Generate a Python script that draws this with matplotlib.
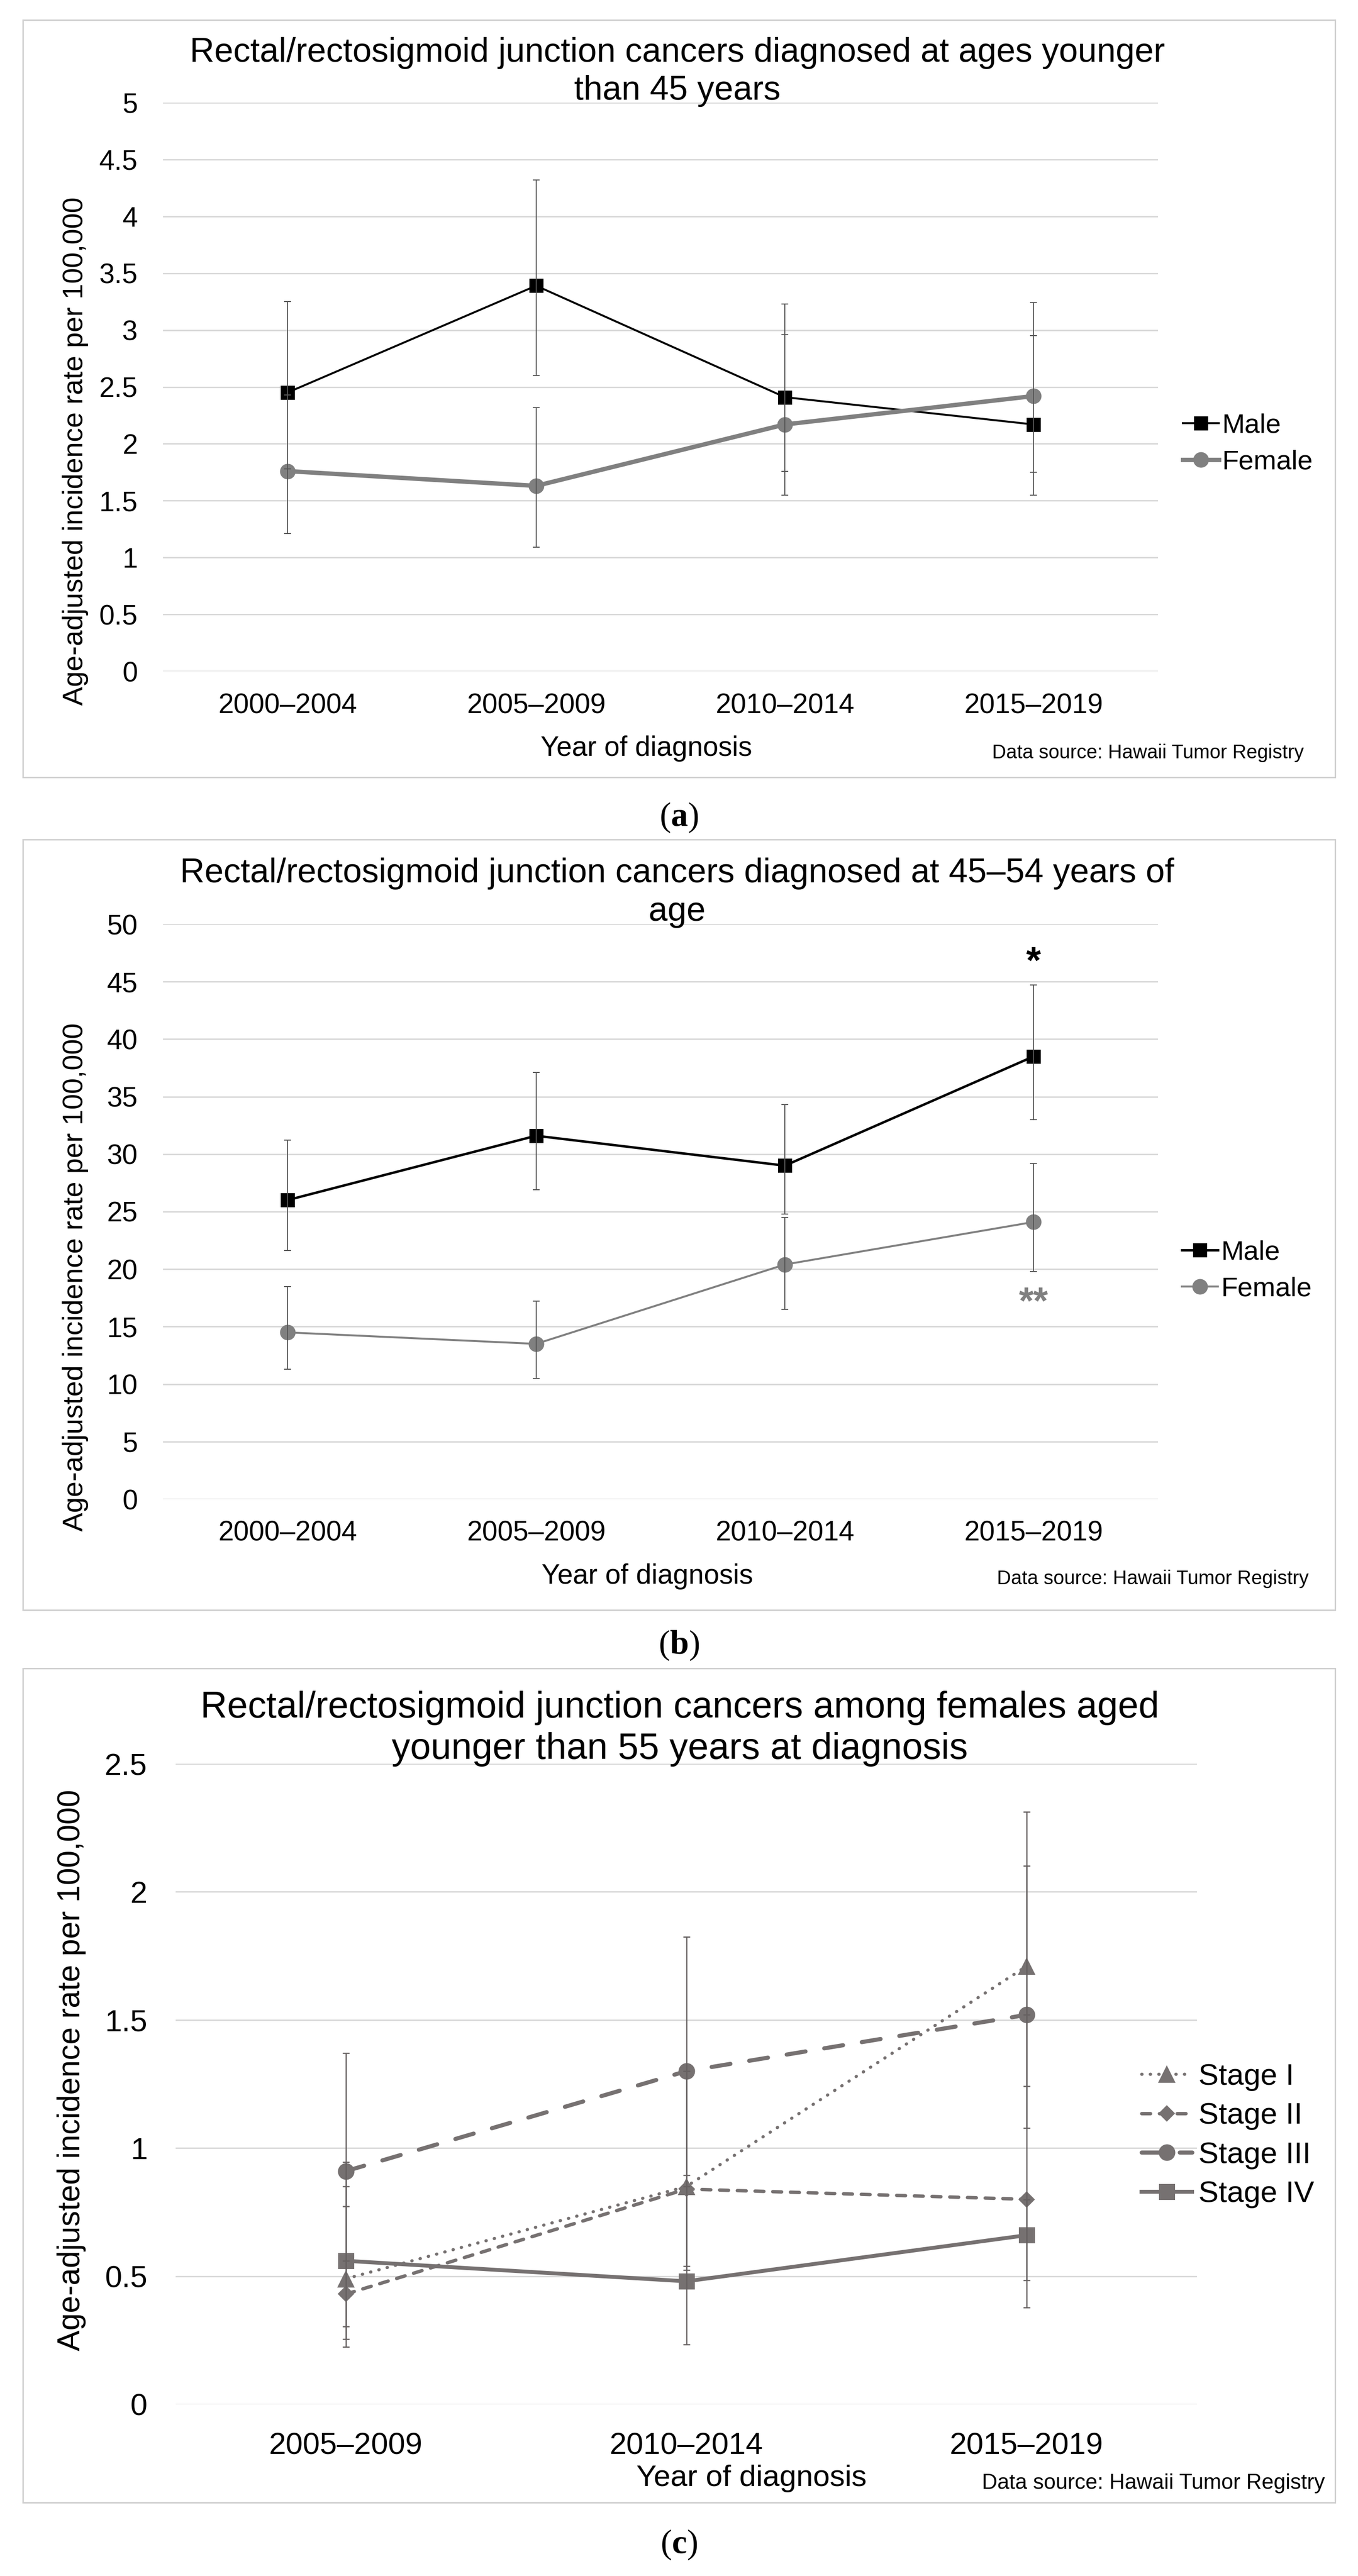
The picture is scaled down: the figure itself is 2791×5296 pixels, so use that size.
import numpy as np
import matplotlib.pyplot as plt
from matplotlib.patches import Rectangle
from matplotlib.ticker import FuncFormatter

plt.rcParams['font.family'] = ['Liberation Sans', 'DejaVu Sans']
plt.rcParams['mathtext.fontset'] = 'custom'
plt.rcParams['mathtext.rm'] = 'Liberation Serif'
plt.rcParams['mathtext.bf'] = 'Liberation Serif:bold'

# ---- data ----
periods4 = ['2000–2004', '2005–2009', '2010–2014', '2015–2019']
periods3 = ['2005–2009', '2010–2014', '2015–2019']

# (a) younger than 45
a_male = [2.45, 3.39, 2.41, 2.17]
a_male_lo = [1.78, 2.60, 1.76, 1.55]
a_male_hi = [3.25, 4.32, 3.23, 2.95]
a_female = [1.76, 1.63, 2.17, 2.42]
a_female_lo = [1.21, 1.09, 1.55, 1.75]
a_female_hi = [2.43, 2.32, 2.96, 3.24]

# (b) 45-54
b_male = [26.0, 31.6, 29.0, 38.5]
b_male_lo = [21.6, 26.9, 24.8, 33.0]
b_male_hi = [31.2, 37.1, 34.3, 44.7]
b_female = [14.5, 13.5, 20.4, 24.1]
b_female_lo = [11.3, 10.5, 16.5, 19.8]
b_female_hi = [18.5, 17.2, 24.5, 29.2]

# (c) females younger than 55, by stage
stages = ['Stage I', 'Stage II', 'Stage III', 'Stage IV']
stage_vals = [[0.49, 0.85, 1.71],
              [0.43, 0.84, 0.80],
              [0.91, 1.30, 1.52],
              [0.56, 0.48, 0.66]]
stage_lo = [[0.255, 0.540, 1.078],
            [0.224, 0.523, 0.485],
            [0.56, 0.895, 1.242],
            [0.303, 0.233, 0.378]]
stage_hi = [[0.945, 1.30, 2.313],
            [0.851, 1.30, 1.52],
            [1.371, 1.825, 2.102],
            [0.772, 0.85, 0.80]]

W, H = 2791, 5296
DPI = 72
fig = plt.figure(figsize=(W / DPI, H / DPI), dpi=DPI)

GRID = '#d9d9d9'
ERR = '#555555'
GREY = '#808080'
STAGE = '#767171'


def add_ax(left, top, right, bottom):
    return fig.add_axes([left / W, 1 - bottom / H, (right - left) / W, (bottom - top) / H])


def style_ax(ax, cats, ymax, ystep, fs, xpad, ypad):
    ax.set_xlim(-0.5, len(cats) - 0.5)
    ax.set_ylim(0, ymax)
    ax.set_xticks(range(len(cats)))
    ax.set_xticklabels(cats)
    ax.set_yticks(np.arange(0, ymax + ystep / 2, ystep))
    ax.yaxis.set_major_formatter(FuncFormatter(lambda v, p: f'{v:g}'))
    for s in ax.spines.values():
        s.set_visible(False)
    ax.tick_params(axis='x', length=0, labelsize=fs, pad=xpad)
    ax.tick_params(axis='y', length=0, labelsize=fs, pad=ypad)
    ax.yaxis.grid(True, color=GRID, lw=3)
    ax.set_axisbelow(True)
    ax.patch.set_alpha(0)


def fy(y):
    return 1 - y / H


def panel_text(x, y, s, **kw):
    fig.text(x / W, fy(y), s, **kw)


def err(ax, x, vals, lo, hi, color, lw, cap):
    ax.errorbar(x, vals, yerr=[np.subtract(vals, lo), np.subtract(hi, vals)],
                fmt='none', ecolor=color, elinewidth=lw, capsize=cap, capthick=lw, zorder=4)


# panel frames
for top, bottom in [(41, 1598), (1726, 3310), (3430, 5145)]:
    fig.patches.append(Rectangle((47 / W, fy(bottom)), (2744 - 47) / W, (bottom - top) / H,
                                 transform=fig.transFigure, fill=False, ec='#d0d0d0', lw=3))

# ---------------- (a) ----------------
ax = add_ax(335, 211, 2380, 1380)
style_ax(ax, periods4, 5, 0.5, 57, 44, 52)
x = np.arange(4)
err(ax, x, a_male, a_male_lo, a_male_hi, ERR, 2, 7)
err(ax, x, a_female, a_female_lo, a_female_hi, ERR, 2, 7)
ax.plot(x, a_male, color='black', lw=4, marker='s', ms=29, mew=0, label='Male', zorder=3)
ax.plot(x, a_female, color=GREY, lw=9, marker='o', ms=32, mew=0, label='Female', zorder=3)
ax.legend(loc='center left', bbox_to_anchor=(2431 / W, fy(913)), bbox_transform=fig.transFigure,
          frameon=False, borderpad=0, borderaxespad=0, fontsize=56, handlelength=1.32,
          handletextpad=0.12, labelspacing=0.4, numpoints=1)
panel_text(1392, 127, 'Rectal/rectosigmoid junction cancers diagnosed at ages younger',
           ha='center', va='baseline', fontsize=70)
panel_text(1392, 205, 'than 45 years', ha='center', va='baseline', fontsize=70)
panel_text(155, 928, 'Age-adjusted incidence rate per 100,000', rotation=90,
           ha='center', va='center', fontsize=58)
panel_text(1328, 1539, 'Year of diagnosis', ha='center', va='center', fontsize=57)
panel_text(2680, 1548, 'Data source: Hawaii Tumor Registry', ha='right', va='center', fontsize=40)
panel_text(1395, 1681, r'($\mathbf{a}$)', ha='center', va='center', fontsize=70,
           family='Liberation Serif')

# ---------------- (b) ----------------
ax = add_ax(335, 1900, 2380, 3082)
style_ax(ax, periods4, 50, 5, 57, 44, 52)
err(ax, x, b_male, b_male_lo, b_male_hi, ERR, 2, 7)
err(ax, x, b_female, b_female_lo, b_female_hi, ERR, 2, 7)
ax.plot(x, b_male, color='black', lw=5, marker='s', ms=29, mew=0, label='Male', zorder=3)
ax.plot(x, b_female, color=GREY, lw=4, marker='o', ms=32, mew=0, label='Female', zorder=3)
ax.text(3, 46.6, '*', ha='center', va='center', fontsize=78, color='black', fontweight='bold')
ax.text(3, 17.0, '**', ha='center', va='center', fontsize=78, color=GREY, fontweight='bold')
ax.legend(loc='center left', bbox_to_anchor=(2429 / W, fy(2613)), bbox_transform=fig.transFigure,
          frameon=False, borderpad=0, borderaxespad=0, fontsize=56, handlelength=1.32,
          handletextpad=0.12, labelspacing=0.4, numpoints=1)
panel_text(1392, 1814, 'Rectal/rectosigmoid junction cancers diagnosed at 45–54 years of',
           ha='center', va='baseline', fontsize=70)
panel_text(1392, 1893, 'age', ha='center', va='baseline', fontsize=70)
panel_text(155, 2626, 'Age-adjusted incidence rate per 100,000', rotation=90,
           ha='center', va='center', fontsize=58)
panel_text(1330, 3241, 'Year of diagnosis', ha='center', va='center', fontsize=57)
panel_text(2690, 3246, 'Data source: Hawaii Tumor Registry', ha='right', va='center', fontsize=40)
panel_text(1395, 3383, r'($\mathbf{b}$)', ha='center', va='center', fontsize=70,
           family='Liberation Serif')

# ---------------- (c) ----------------
ax = add_ax(361, 3626, 2460, 4943)
style_ax(ax, periods3, 2.5, 0.5, 63, 56, 58)
x3 = np.arange(3)
styles = [dict(ls=(0, (0.1, 2.6)), lw=6.5, marker='^', ms=36),
          dict(ls=(0, (2.6, 2.6)), lw=7, marker='D', ms=24),
          dict(ls=(0, (4.6, 4.6)), lw=8.5, marker='o', ms=34),
          dict(ls='-', lw=8, marker='s', ms=33)]
for vals, lo, hi in zip(stage_vals, stage_lo, stage_hi):
    err(ax, x3, vals, lo, hi, '#666161', 2.5, 7)
for name, vals, st in zip(stages, stage_vals, styles):
    ax.plot(x3, vals, color=STAGE, mew=0, dash_capstyle='round', label=name, zorder=3, **st)
ax.legend(loc='center left', bbox_to_anchor=(2346 / W, fy(4391)), bbox_transform=fig.transFigure,
          frameon=False, borderpad=0, borderaxespad=0, fontsize=62, handlelength=1.68,
          handletextpad=0.2, labelspacing=0.38, numpoints=1)
panel_text(1397, 3531, 'Rectal/rectosigmoid junction cancers among females aged',
           ha='center', va='baseline', fontsize=76)
panel_text(1397, 3616, 'younger than 55 years at diagnosis', ha='center', va='baseline', fontsize=76)
panel_text(147, 4256, 'Age-adjusted incidence rate per 100,000', rotation=90,
           ha='center', va='center', fontsize=64)
panel_text(1545, 5095, 'Year of diagnosis', ha='center', va='center', fontsize=62)
panel_text(2723, 5105, 'Data source: Hawaii Tumor Registry', ha='right', va='center', fontsize=44)
panel_text(1395, 5232, r'($\mathbf{c}$)', ha='center', va='center', fontsize=70,
           family='Liberation Serif')

fig.savefig('out.png', dpi=DPI, facecolor='white')
